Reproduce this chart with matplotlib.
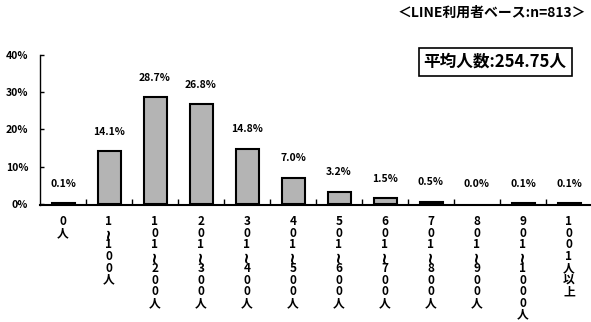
import matplotlib
matplotlib.use("Agg")
import matplotlib.pyplot as plt

plt.rcParams['font.family'] = ['Noto Sans CJK JP', 'DejaVu Sans']

categories = ["0人", "1~100人", "101~200人", "201~300人", "301~400人", "401~500人",
              "501~600人", "601~700人", "701~800人", "801~900人", "901~1000人", "1001人以上"]
values = [0.1, 14.1, 28.7, 26.8, 14.8, 7.0, 3.2, 1.5, 0.5, 0.0, 0.1, 0.1]
yticks = [0, 10, 20, 30, 40]
header = "＜LINE利用者ベース:n=813＞"
average_text = "平均人数:254.75人"

fig = plt.figure(figsize=(5.91, 3.22), dpi=100)
ax = fig.add_axes([40 / 591, 1 - 205 / 322, 552 / 591, 150 / 322])

x = list(range(len(categories)))
bars = ax.bar(x, values, width=0.5, color="#b4b4b4", edgecolor="black", linewidth=1.5,
              zorder=3, clip_on=False)
for b, v in zip(bars, values):
    if v == 0:
        b.set_linewidth(0)

for xi, v in zip(x, values):
    ax.annotate(f"{v:.1f}%", (xi, v), xytext=(0, 14), textcoords="offset points",
                ha="center", va="center", fontsize=7.5, fontweight="bold")

ax.set_xlim(-0.5, len(categories) - 0.5)
ax.set_ylim(-0.35, 40)
ax.set_yticks(yticks)
ax.set_yticklabels([f"{t}%" for t in yticks], fontsize=7.5, fontweight="bold")
ax.tick_params(axis="y", direction="in", length=3, width=1, pad=8.5)

# category separators on the x axis
ax.set_xticks([i + 0.5 for i in range(len(categories) - 1)])
ax.set_xticklabels([])
ax.tick_params(axis="x", direction="in", length=4, width=1)

for s in ["top", "right"]:
    ax.spines[s].set_visible(False)
ax.spines["left"].set_linewidth(1.0)
ax.spines["bottom"].set_linewidth(1.5)

# vertically stacked category labels, one character per row
pitch = 8.4  # points between rows
for xi, c in zip(x, categories):
    for k, ch in enumerate(c):
        y_off = -12 - k * pitch
        if ch == "~":
            ax.annotate("~", (xi, 0), xytext=(0, y_off), textcoords="offset points",
                        xycoords=("data", "axes fraction"), ha="center", va="center",
                        fontsize=11, fontweight="bold", rotation=90, family="DejaVu Sans")
        else:
            ax.annotate(ch, (xi, 0), xytext=(0, y_off), textcoords="offset points",
                        xycoords=("data", "axes fraction"), ha="center", va="center",
                        fontsize=8.5, fontweight="bold")

fig.text(492 / 591, 1 - 13 / 322, header, ha="center", va="center", fontsize=10, fontweight="bold")
fig.text(495 / 591, 1 - 62 / 322, average_text, ha="center", va="center", fontsize=12,
         fontweight="bold",
         bbox=dict(boxstyle="square,pad=0.3", facecolor="white", edgecolor="black", linewidth=1.2))

fig.savefig("out.png", dpi=100)
